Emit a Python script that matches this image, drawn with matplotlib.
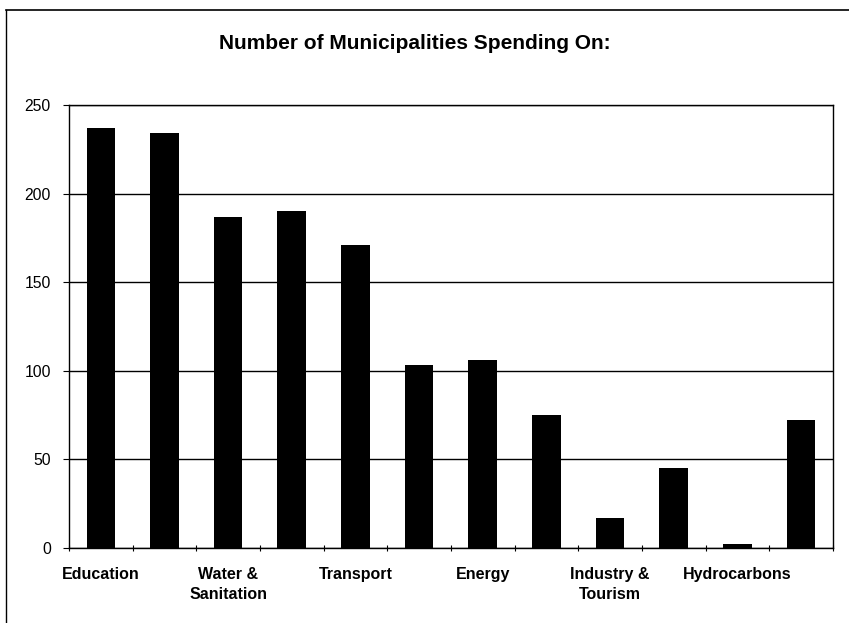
import matplotlib.pyplot as plt
from matplotlib.lines import Line2D
import numpy as np

plt.rcParams['font.family'] = ['Liberation Sans', 'DejaVu Sans']

# spending counts per sector; only every other sector name is printed on the axis
labels = ['Education', '', 'Water &\nSanitation', '', 'Transport', '',
          'Energy', '', 'Industry &\nTourism', '', 'Hydrocarbons', '']
counts = [237, 234, 187, 190, 171, 103, 106, 75, 17, 45, 2, 72]
yticks = [0, 50, 100, 150, 200, 250]

fig = plt.figure(figsize=(8.49, 6.23), dpi=100)
ax = fig.add_axes([0.0813, 0.1204, 0.8997, 0.7111])

x = np.arange(len(counts))
ax.bar(x, counts, width=0.45, color='black', zorder=3)

ax.set_xlim(-0.5, len(counts) - 0.5)
ax.set_ylim(0, 250)
ax.set_yticks(yticks)
ax.yaxis.grid(True, color='black', linewidth=1.0, zorder=1)
ax.tick_params(axis='y', length=4, direction='out', labelsize=11.3, pad=9)

# category boundaries get the tick marks, names sit under the bar centres
ax.set_xticks(np.arange(len(counts) + 1) - 0.5)
ax.set_xticklabels([])
ax.set_xticks(x, minor=True)
ax.set_xticklabels(labels, minor=True, fontweight='bold', fontsize=11.5,
                   linespacing=1.35)
ax.tick_params(axis='x', which='major', length=5, direction='inout')
ax.tick_params(axis='x', which='minor', length=0, pad=14)

for s in ax.spines.values():
    s.set_color('black')
    s.set_linewidth(1.0)

fig.text(0.489, 0.930, 'Number of Municipalities Spending On:',
         ha='center', va='center', fontsize=15, fontweight='bold')

# outer chart frame
fig.add_artist(Line2D([6 / 849, 1], [1 - 10 / 623, 1 - 10 / 623],
                      transform=fig.transFigure, color='black', linewidth=1.2))
fig.add_artist(Line2D([6 / 849, 6 / 849], [0, 1 - 10 / 623],
                      transform=fig.transFigure, color='black', linewidth=1.0))

fig.savefig('out.png', dpi=100)
